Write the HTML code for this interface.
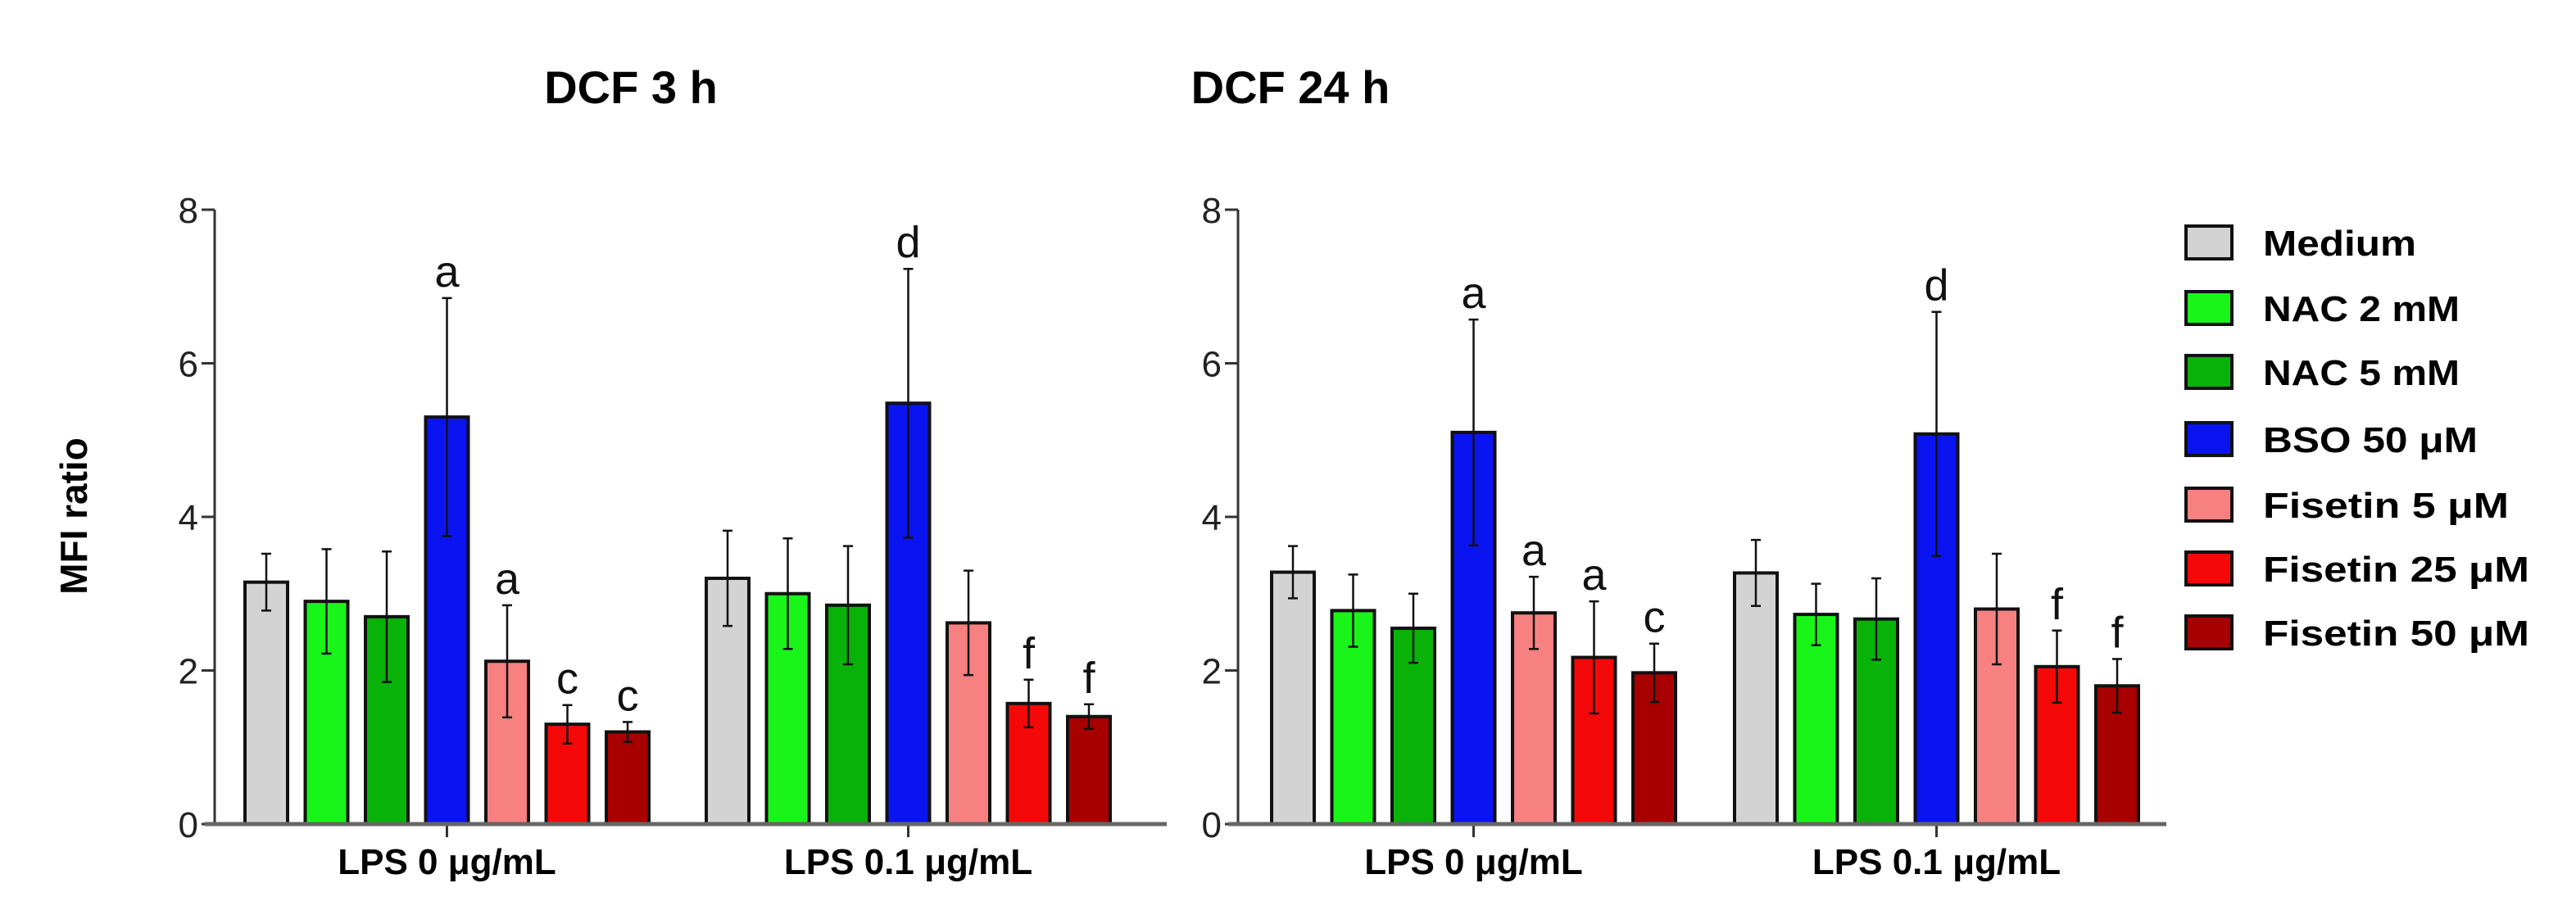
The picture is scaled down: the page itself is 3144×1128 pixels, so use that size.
<!DOCTYPE html>
<html><head><meta charset="utf-8"><style>
html,body{margin:0;padding:0;background:#fff}
svg{display:block;font-family:"Liberation Sans",sans-serif}
</style></head><body>
<svg id="chart" width="3144" height="1128" viewBox="0 0 3144 1128">
<text x="106" y="630" transform="rotate(-90 106 630)" text-anchor="middle" font-size="46" font-weight="bold">MFI ratio</text>
<g id="legend"></g>
</svg>
<script>
const treatments = ["Medium","NAC 2 mM","NAC 5 mM","BSO 50 \u03bcM","Fisetin  5 \u03bcM","Fisetin  25 \u03bcM","Fisetin  50 \u03bcM"];
const colors = ["#d3d3d3","#19f519","#08b208","#0a14f0","#f78080","#f50808","#a80000"];
const groups = ["LPS 0 \u03bcg/mL","LPS 0.1 \u03bcg/mL"];
const yTicks = [0,2,4,6,8];
// DCF 3 h
const p1Mean = [[3.15,2.9,2.7,5.3,2.12,1.3,1.2],[3.2,3.0,2.85,5.48,2.62,1.57,1.4]];
const p1Err  = [[0.37,0.68,0.85,1.55,0.73,0.25,0.13],[0.62,0.72,0.77,1.75,0.68,0.31,0.16]];
const p1Lab  = [["","","","a","a","c","c"],["","","","d","","f","f"]];
// DCF 24 h
const p2Mean = [[3.28,2.78,2.55,5.1,2.75,2.17,1.97],[3.27,2.73,2.67,5.08,2.8,2.05,1.8]];
const p2Err  = [[0.34,0.47,0.45,1.47,0.47,0.73,0.38],[0.43,0.4,0.53,1.59,0.72,0.47,0.35]];
const p2Lab  = [["","","","a","a","a","c"],["","","","d","","f","f"]];

const NS="http://www.w3.org/2000/svg";
const svg=document.getElementById('chart');
function mk(tag,attrs,parent){const e=document.createElementNS(NS,tag);for(const k in attrs)e.setAttribute(k,attrs[k]);(parent||svg).appendChild(e);return e;}

function panel(cfg,means,errs,labs){
  const g=mk('g',{});
  
  
  const y0=1006,y8=256;
  const ys=v=>y0-(v/8)*(y0-y8);
  const t=mk('text',{x:cfg.titleX,y:126,'text-anchor':'middle','font-size':56,'font-weight':'bold'},g);
  t.textContent=cfg.title;
  
  
  const ax=mk('line',{x1:cfg.axX,x2:cfg.axX,y1:y8,y2:y0,stroke:'#333','stroke-width':3},g);
  
  
  yTicks.forEach(v=>{
    mk('line',{x1:cfg.axX-16,x2:cfg.axX,y1:ys(v),y2:ys(v),stroke:'#333','stroke-width':3},g);
    const tl=mk('text',{x:cfg.axX-20,y:ys(v)+16,'text-anchor':'end','font-size':44,fill:'#222'},g);
    tl.textContent=v;
    
    
  });
  const step=73.5,bw=52;
  groups.forEach((gn,gi)=>{
    const gx=cfg.groupStart[gi];
    means[gi].forEach((m,i)=>{
      const x=gx+i*step;
      const r=mk('rect',{x:x,y:ys(m),width:bw,height:y0-ys(m),fill:colors[i],stroke:'#111','stroke-width':4},g);
      
      
      const cx=x+bw/2,e=errs[gi][i];
      const eb=mk('path',{d:`M${cx},${ys(m-e)}V${ys(m+e)}M${cx-6},${ys(m+e)}H${cx+6}M${cx-6},${ys(m-e)}H${cx+6}`,stroke:'#111','stroke-width':2.5,fill:'none'},g);
      
      
      if(labs[gi][i]){
        const lt=mk('text',{x:cx,y:ys(m+e)-14,'text-anchor':'middle','font-size':54,fill:'#111'},g);
        lt.textContent=labs[gi][i];
        
        
      }
    });
    const tc=gx+3*step+bw/2;
    mk('line',{x1:tc,x2:tc,y1:y0,y2:y0+16,stroke:'#333','stroke-width':3},g);
    const gl=mk('text',{x:tc,y:1067,'text-anchor':'middle','font-size':44,'font-weight':'bold'},g);
    gl.textContent=gn;
    
    
  });
  const xa=mk('line',{x1:cfg.axX-12,x2:cfg.axEnd,y1:y0,y2:y0,stroke:'#666','stroke-width':5},g);
  
  
}
panel({name:'panel-dcf-3h',title:'DCF 3 h',titleX:770,axX:262,axEnd:1424,groupStart:[299,862]},p1Mean,p1Err,p1Lab);
panel({name:'panel-dcf-24h',title:'DCF 24 h',titleX:1575,axX:1511,axEnd:2644,groupStart:[1552,2117]},p2Mean,p2Err,p2Lab);

const lg=document.getElementById('legend');
const rowY=[296,376,454,536,616,694,772];
const textW=[187,240,240,262,300,325,325];
treatments.forEach((tr,i)=>{
  const b=mk('rect',{x:2668,y:rowY[i]-20,width:56,height:40,fill:colors[i],stroke:'#111','stroke-width':4},lg);
  
  
  const t=mk('text',{x:2762,y:rowY[i]+16,'font-size':44,'font-weight':'bold',textLength:textW[i],lengthAdjust:'spacingAndGlyphs'},lg);
  t.textContent=tr;
  
  
});
</script>
</body></html>
